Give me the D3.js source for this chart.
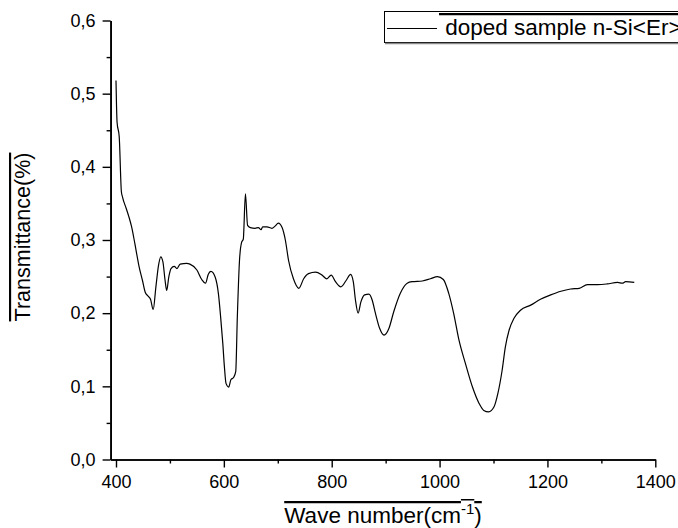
<!DOCTYPE html>
<html>
<head>
<meta charset="utf-8">
<script src="https://cdn.jsdelivr.net/npm/d3@7"></script>
<style>
  html, body { margin: 0; padding: 0; background: #fff; overflow: hidden; }
  svg { display: block; }
  text { font-family: Arial, "Liberation Sans", sans-serif; fill: #000; }
</style>
</head>
<body>
<svg id="chart" width="678" height="528"></svg>
<script>
// ---- data ----
const wavenumber = [400,402,406,410,412,419,425,429,435,443,449,454,460,464,469,474,479,483,487,491,494,498,502,508,513,519,531,537,550,559,566,571,576,584,590,594,598,601,604,609,613,618,622,625,629,633,636,640,644,649,658,664,669,672,680,689,695,701,708,714,720,729,739,748,757,770,782,791,799,807,817,827,835,840,844,849,854,861,869,875,881,889,897,906,915,927,940,949,968,983,996,1007,1017,1026,1036,1048,1061,1073,1082,1091,1101,1108,1116,1122,1129,1138,1150,1169,1187,1206,1225,1243,1259,1274,1293,1311,1330,1339,1345,1361];
const transmittance = [0.518,0.461,0.441,0.366,0.359,0.343,0.329,0.318,0.295,0.263,0.245,0.229,0.223,0.219,0.205,0.236,0.266,0.277,0.270,0.245,0.231,0.250,0.261,0.264,0.261,0.267,0.268,0.267,0.259,0.246,0.241,0.253,0.257,0.249,0.226,0.195,0.159,0.127,0.104,0.099,0.109,0.112,0.120,0.195,0.272,0.297,0.301,0.363,0.320,0.317,0.316,0.317,0.314,0.318,0.318,0.316,0.319,0.323,0.317,0.300,0.272,0.247,0.234,0.247,0.254,0.256,0.252,0.247,0.252,0.243,0.236,0.245,0.253,0.243,0.218,0.200,0.215,0.225,0.226,0.218,0.200,0.179,0.170,0.179,0.202,0.227,0.241,0.243,0.244,0.247,0.250,0.246,0.227,0.200,0.163,0.131,0.099,0.077,0.067,0.065,0.072,0.090,0.122,0.154,0.177,0.193,0.204,0.211,0.219,0.225,0.230,0.233,0.234,0.239,0.239,0.240,0.242,0.241,0.243,0.242];
const xMajorTicks = [400,600,800,1000,1200,1400];
const xMinorTicks = [500,700,900,1100,1300];
const yMajorTicks = [0.0,0.1,0.2,0.3,0.4,0.5,0.6];
const yMinorTicks = [0.05,0.15,0.25,0.35,0.45,0.55];
const seriesName = "doped sample n-Si<Er>";
const xTitle = "Wave number(cm";
const xTitleSup = "-1";
const yTitle = "Transmittance(%)";

// ---- layout ----
const svg = d3.select("#chart");
const x = d3.scaleLinear().domain([390, 1400]).range([110.6, 655.3]);
const y = d3.scaleLinear().domain([0, 0.6]).range([459.5, 20.5]);
const fmt = v => d3.format(".1f")(v).replace(".", ",");

// axes
const xAxisMajor = d3.axisBottom(x).tickValues(xMajorTicks).tickSize(8).tickPadding(8).tickSizeOuter(0).tickFormat(d3.format("d"));
const xAxisMinor = d3.axisBottom(x).tickValues(xMinorTicks).tickSize(4).tickSizeOuter(0).tickFormat("");
const yAxisMajor = d3.axisLeft(y).tickValues(yMajorTicks).tickSize(8).tickPadding(7).tickSizeOuter(0).tickFormat(fmt);
const yAxisMinor = d3.axisLeft(y).tickValues(yMinorTicks).tickSize(4).tickSizeOuter(0).tickFormat("");

function styleAxis(g) {
  g.selectAll("path.domain").attr("stroke", "#000").attr("stroke-width", 1.6);
  g.selectAll(".tick line").attr("stroke", "#000").attr("stroke-width", 1.4);
  g.selectAll(".tick text").style("font-size", "18px").attr("fill", "#000")
    .style("font-family", 'Arial, "Liberation Sans", sans-serif');
}

svg.append("g").attr("transform", `translate(0,${y(0)})`).call(xAxisMinor).call(styleAxis);
svg.append("g").attr("transform", `translate(0,${y(0)})`).call(xAxisMajor).call(styleAxis);
svg.append("g").attr("transform", `translate(${x(390)},0)`).call(yAxisMinor).call(styleAxis);
svg.append("g").attr("transform", `translate(${x(390)},0)`).call(yAxisMajor).call(styleAxis);

// line
const data = wavenumber.map((w, i) => ({w, t: transmittance[i]}));
const line = d3.line().x(d => x(d.w)).y(d => y(d.t)).curve(d3.curveMonotoneX);
svg.append("path").datum(data).attr("d", line)
  .attr("fill", "none").attr("stroke", "#000").attr("stroke-width", 1.2);

// axis titles
const xt = svg.append("text").attr("x", 383).attr("y", 523).attr("text-anchor", "middle")
  .style("font-size", "22.5px").style("text-decoration", "overline");
xt.append("tspan").text(xTitle);
xt.append("tspan").attr("dy", -9).style("font-size", "15px").text(xTitleSup);
xt.append("tspan").attr("dy", 9).text(")");

svg.append("text").attr("transform", "translate(30,237) rotate(-90)")
  .attr("text-anchor", "middle").style("font-size", "21.5px")
  .style("text-decoration", "overline").text(yTitle);

// legend (clipped at the right edge, as in the reference)
const lg = svg.append("g");
lg.append("rect").attr("x", 384.5).attr("y", 11.5).attr("width", 400).attr("height", 31)
  .attr("fill", "#fff").attr("stroke", "#000").attr("stroke-width", 1);
lg.append("line").attr("x1", 385).attr("x2", 780).attr("y1", 43.5).attr("y2", 43.5)
  .attr("stroke", "#888").attr("stroke-width", 1.5);
lg.append("line").attr("x1", 387).attr("x2", 437).attr("y1", 28.5).attr("y2", 28.5)
  .attr("stroke", "#000").attr("stroke-width", 1.2);
lg.append("text").attr("x", 439).attr("y", 35).style("font-size", "22.5px")
  .style("text-decoration", "overline").style("white-space", "pre")
  .text("\u00a0" + seriesName);
</script>
</body>
</html>
